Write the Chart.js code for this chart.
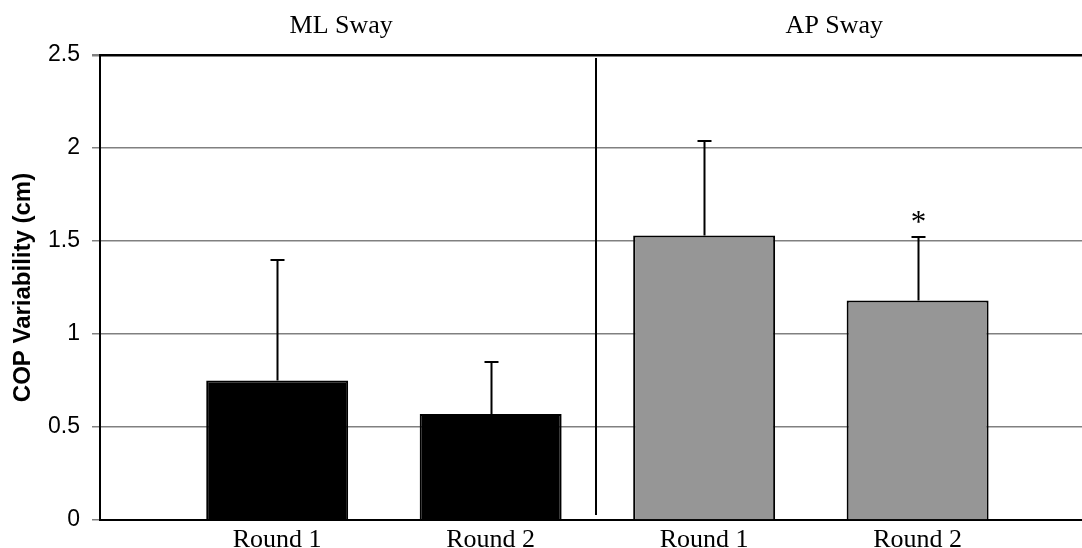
<!DOCTYPE html>
<html>
<head>
<meta charset="UTF-8">
<title>COP Variability</title>
<style>
body { margin: 0; background: #fff; }
#wrap { width: 1082px; height: 548px; }
</style>
</head>
<body>
<div id="wrap"><canvas id="copChart" width="1082" height="548"></canvas></div>
<script src="https://cdn.jsdelivr.net/npm/chart.js@4.4.0/dist/chart.umd.min.js"></script>
<script>
// values
const categories = ['Round 1', 'Round 2', 'Round 1', 'Round 2'];
const groups = ['ML Sway', 'AP Sway'];
const means = [0.75, 0.57, 1.53, 1.18];
const errorTops = [1.40, 0.85, 2.04, 1.52];
const marks = ['', '', '', '*'];
const yTicks = [0, 0.5, 1, 1.5, 2, 2.5];
const barColors = ['#000000', '#000000', '#969696', '#969696'];

const serif = '"Liberation Serif", "Times New Roman", serif';
const sans = '"Liberation Sans", Arial, sans-serif';

// error bars, divider, group titles and the asterisk
const extras = {
	id: 'extras',
	afterDatasetsDraw(chart) {
		const ctx = chart.ctx;
		const xs = chart.scales.x, ys = chart.scales.y;
		const area = chart.chartArea;
		ctx.save();
		ctx.strokeStyle = '#000';
		ctx.lineWidth = 2;
		errorTops.forEach(function(top, i) {
			const x = Math.round(xs.getPixelForValue(i + 1)) + 0.5;
			const y0 = ys.getPixelForValue(means[i]);
			const y1 = Math.round(ys.getPixelForValue(top));
			ctx.beginPath();
			ctx.moveTo(x, y0);
			ctx.lineTo(x, y1);
			ctx.moveTo(x - 7, y1);
			ctx.lineTo(x + 7, y1);
			ctx.stroke();
			if (marks[i]) {
				ctx.fillStyle = '#000';
				ctx.font = '31px ' + serif;
				ctx.textAlign = 'center';
				ctx.textBaseline = 'alphabetic';
				ctx.fillText(marks[i], x, y1 - 5);
			}
		});
		// divider between the two sway groups
		const dx = Math.round(xs.getPixelForValue(2.495));
		ctx.beginPath();
		ctx.moveTo(dx, area.top + 3);
		ctx.lineTo(dx, area.bottom - 5);
		ctx.stroke();
		// group titles above the plot
		const titleAt = [1.3, 3.61];
		ctx.fillStyle = '#000';
		ctx.font = '26px ' + serif;
		ctx.textAlign = 'center';
		ctx.textBaseline = 'alphabetic';
		groups.forEach(function(g, i) {
			ctx.fillText(g, xs.getPixelForValue(titleAt[i]), 33);
		});
		ctx.restore();
	}
};

const ctx = document.getElementById('copChart').getContext('2d');
const chart = new Chart(ctx, {
	type: 'bar',
	data: {
		datasets: [{
			data: means.map(function(v, i) { return { x: i + 1, y: v }; }),
			backgroundColor: barColors,
			borderColor: '#000',
			borderWidth: 2,
			categoryPercentage: 1,
			barPercentage: 0.665
		}]
	},
	options: {
		responsive: false,
		animation: false,
		devicePixelRatio: 1,
		layout: { padding: { top: 55, left: 0, right: 0, bottom: 0 } },
		plugins: {
			legend: { display: false },
			tooltip: { enabled: false }
		},
		scales: {
			x: {
				type: 'linear',
				offset: false,
				min: 0.17,
				max: 4.77,
				afterBuildTicks: function(s) {
					s.ticks = categories.map(function(c, i) { return { value: i + 1 }; });
				},
				afterFit: function(s) { s.height = 28; },
				grid: { display: false, offset: false },
				border: { color: '#000', width: 2 },
				ticks: {
					autoSkip: false,
					maxRotation: 0,
					padding: -3,
					color: '#000',
					font: { family: serif, size: 26 },
					callback: function(v) { return categories[v - 1]; }
				}
			},
			y: {
				min: 0,
				max: 2.5,
				afterBuildTicks: function(s) {
					s.ticks = yTicks.map(function(v) { return { value: v }; });
				},
				afterFit: function(s) { s.width = 100; },
				grid: {
					color: function(c) { return c.tick && c.tick.value === 2.5 ? '#000' : '#808080'; },
					lineWidth: function(c) { return c.tick && c.tick.value === 2.5 ? 2.5 : 1.5; },
					tickColor: '#808080',
					tickLength: 8
				},
				border: { color: '#000', width: 2 },
				ticks: {
					padding: 12,
					color: '#000',
					font: { family: sans, size: 23 },
					callback: function(v) { return String(v); }
				},
				title: {
					display: true,
					text: 'COP Variability (cm)',
					color: '#000',
					font: { family: sans, size: 24, weight: 'bold' },
					padding: { top: 9, bottom: 0 }
				}
			}
		}
	},
	plugins: [extras]
});
</script>
</body>
</html>
